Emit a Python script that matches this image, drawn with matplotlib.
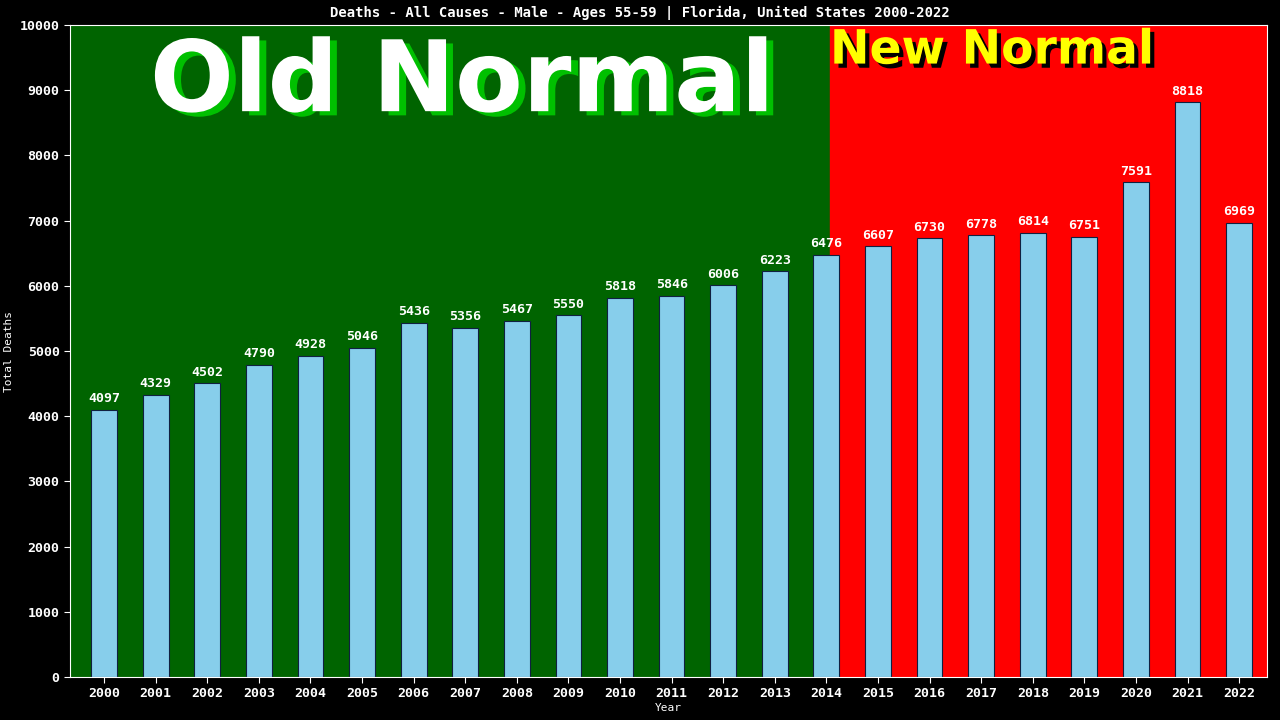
import matplotlib
matplotlib.use("Agg")
import matplotlib.pyplot as plt
import matplotlib.patheffects as pe

years = [str(y) for y in range(2000, 2023)]
deaths = [4097, 4329, 4502, 4790, 4928, 5046, 5436, 5356, 5467, 5550, 5818, 5846,
          6006, 6223, 6476, 6607, 6730, 6778, 6814, 6751, 7591, 8818, 6969]
title = "Deaths - All Causes - Male - Ages 55-59 | Florida, United States 2000-2022"

plt.rcParams['font.family'] = 'DejaVu Sans Mono'
plt.rcParams['font.weight'] = 'bold'

fig = plt.figure(figsize=(12.8, 7.2), dpi=100, facecolor='black')
ax = fig.add_axes([70 / 1280, 43 / 720, 1197 / 1280, 652 / 720])
ax.set_facecolor('black')

x = list(range(len(years)))
ax.set_xlim(-0.66, 22.54)
ax.set_ylim(0, 10000)
split = 14.07
ax.axvspan(-0.66, split, color='#006400', zorder=0)
ax.axvspan(split, 22.54, color='#ff0000', zorder=0)

ax.bar(x, deaths, width=0.5, color='#87ceeb', edgecolor='#102040', linewidth=0.8, zorder=2)
for xi, v in zip(x, deaths):
    ax.text(xi, v + 70, str(v), color='white', ha='center', va='bottom', fontsize=9.5,
            fontweight='bold', zorder=3)

ax.set_xticks(x)
ax.set_xticklabels(years)
ax.set_yticks(range(0, 10001, 1000))
ax.tick_params(colors='white', labelsize=9.5, length=4)
for lab in ax.get_xticklabels() + ax.get_yticklabels():
    lab.set_color('white')
    lab.set_fontweight('bold')
for s in ax.spines.values():
    s.set_color('white')
ax.set_xlabel("Year", color='white', fontsize=8, labelpad=2)
ax.set_ylabel("Total Deaths", color='white', fontsize=8)

fig.text(0.5, 1 - 13 / 720, title, color='white', ha='center', va='center', fontsize=10)

ax.text(6.94, 9100, "Old Normal", color='white', ha='center', va='center', fontsize=71,
        fontfamily='DejaVu Sans', fontweight='bold', zorder=4,
        path_effects=[pe.withSimplePatchShadow(offset=(5, -3), shadow_rgbFace='#00c000', alpha=1)])
ax.text(split, 9600, "New Normal", color='yellow', ha='left', va='center', fontsize=34,
        fontfamily='DejaVu Sans', fontweight='bold', zorder=4,
        path_effects=[pe.withSimplePatchShadow(offset=(3, -3), shadow_rgbFace='black', alpha=1)])

fig.savefig("out.png", dpi=100, facecolor='black')
